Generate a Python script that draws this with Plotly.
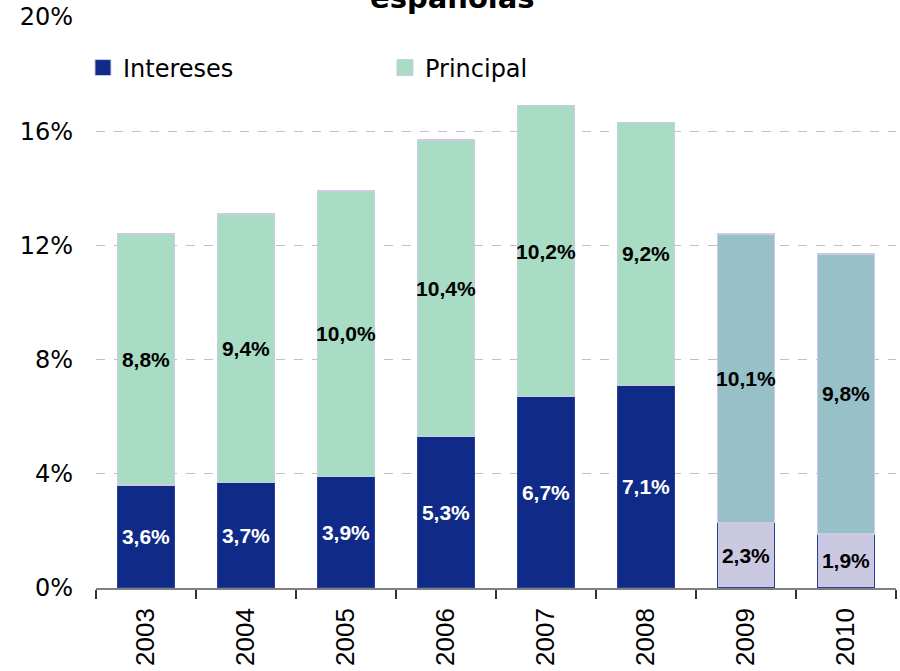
import plotly.graph_objects as go

# Data (percent)
years = ["2003", "2004", "2005", "2006", "2007", "2008", "2009", "2010"]
intereses = [3.6, 3.7, 3.9, 5.3, 6.7, 7.1, 2.3, 1.9]
principal = [8.8, 9.4, 10.0, 10.4, 10.2, 9.2, 10.1, 9.8]
y_ticks = [0, 4, 8, 12, 16, 20]
y_tick_labels = ["0%", "4%", "8%", "12%", "16%", "20%"]

# Styling
N_ACTUAL = 6  # first six years are observed, the last two are projections
BLUE = "#0F2A87"
GREEN = "#A8DCC4"
LAVENDER = "#CBC8E2"
TEAL = "#98C0C8"
ARIAL = "Arial, Liberation Sans"


def fmt(v):
    return f"{v:.1f}".replace(".", ",") + "%"


int_colors = [BLUE] * N_ACTUAL + [LAVENDER] * (len(years) - N_ACTUAL)
int_text_colors = ["white"] * N_ACTUAL + ["black"] * (len(years) - N_ACTUAL)
pri_colors = [GREEN] * N_ACTUAL + [TEAL] * (len(years) - N_ACTUAL)

fig = go.Figure()
fig.add_trace(go.Bar(
    x=years, y=intereses, name="Intereses", showlegend=False,
    marker=dict(color=int_colors, line=dict(color="#2A3F96", width=1.5)),
    text=[fmt(v) for v in intereses], textposition="inside",
    insidetextanchor="middle", textangle=0, constraintext="none",
    textfont=dict(family=ARIAL, size=21, color=int_text_colors, weight="bold"),
    width=0.57,
))
fig.add_trace(go.Bar(
    x=years, y=principal, name="Principal", showlegend=False,
    marker=dict(color=pri_colors, line=dict(color="#CCCBE3", width=1.5)),
    text=[fmt(v) for v in principal], textposition="inside",
    insidetextanchor="middle", textangle=0, constraintext="none",
    textfont=dict(family=ARIAL, size=21, color="black", weight="bold"),
    width=0.57,
))

# Legend entries with square swatches
for name, col in [("Intereses", BLUE), ("Principal", GREEN)]:
    fig.add_trace(go.Scatter(
        x=[None], y=[None], mode="markers", name=name,
        marker=dict(symbol="square", size=18, color=col,
                    line=dict(color="#CCCBE3", width=1)),
    ))

fig.add_annotation(
    text="<b>españolas</b>", x=0.445, xref="paper", y=1.0, yref="paper",
    xanchor="center", yanchor="bottom", showarrow=False,
    font=dict(family="DejaVu Sans", size=29, color="black"),
)

fig.update_layout(
    width=900, height=671,
    margin=dict(l=96, r=4, t=17, b=83, autoexpand=False),
    plot_bgcolor="white", paper_bgcolor="white",
    barmode="stack", bargap=0.43,
    legend=dict(
        orientation="h", x=0.0922, y=0.8987, xanchor="left", yanchor="middle",
        xref="container", yref="container", traceorder="normal",
        font=dict(family="DejaVu Sans", size=24, color="black"),
        entrywidth=257, entrywidthmode="pixels",
        bgcolor="rgba(0,0,0,0)", itemsizing="trace",
    ),
    xaxis=dict(
        type="category", tickangle=-90, tickson="boundaries",
        ticks="outside", ticklen=9, tickcolor="#333333", tickwidth=1.5,
        showline=True, linecolor="#808080", linewidth=1.5,
        showgrid=False, range=[-0.5, 7.5], ticklabelstandoff=8,
        tickfont=dict(family=ARIAL, size=26, color="black"),
    ),
    yaxis=dict(
        range=[0, 20], tickvals=y_ticks, ticktext=y_tick_labels,
        showgrid=True, gridcolor="#C0C0C0", griddash="dash", gridwidth=1.2,
        zeroline=False, showline=False, ticks="",
        ticklabelstandoff=22,
        tickfont=dict(family="DejaVu Sans", size=24, color="black"),
    ),
)

fig.write_html("out.html")
